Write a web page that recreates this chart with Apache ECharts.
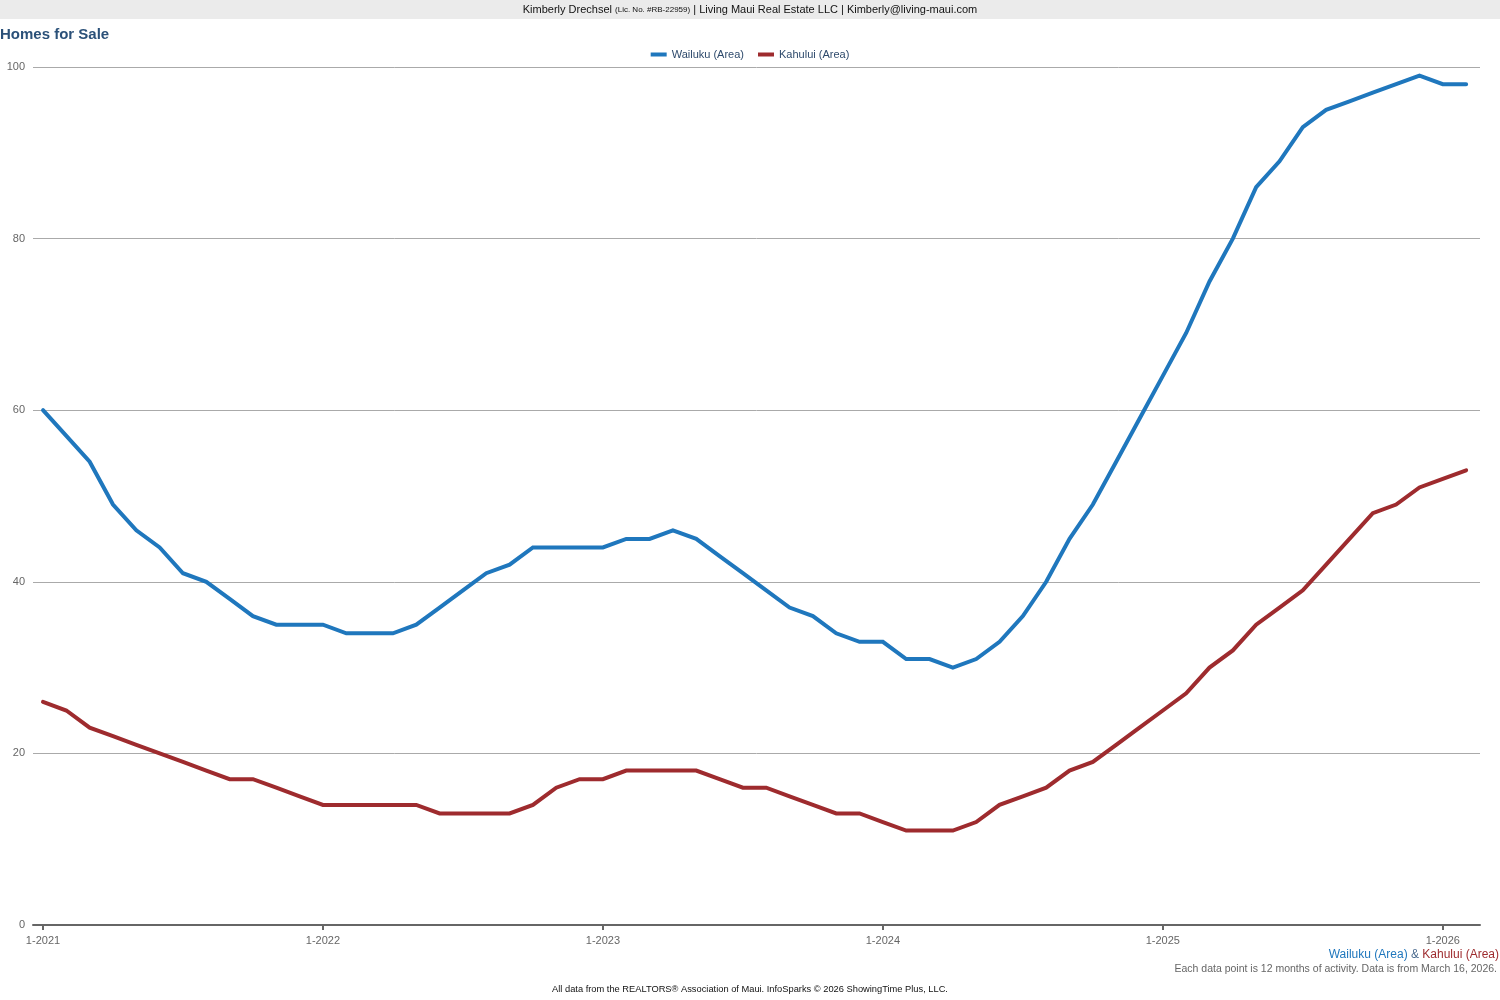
<!DOCTYPE html>
<html>
<head>
<meta charset="utf-8">
<script src="https://cdn.jsdelivr.net/npm/echarts@6/dist/echarts.min.js"></script>
<style>
html,body{margin:0;padding:0;background:#fff;}
#chart{width:1500px;height:1000px;}
</style>
</head>
<body>
<div id="chart"></div>
<script>
// Months Jan 2021 .. Feb 2026
const months = [];
for (let y = 2021; y <= 2026; y++) for (let m = 1; m <= 12; m++) months.push(m + '-' + y);
months.length = 62;

const tickLabels = ['1-2021', '1-2022', '1-2023', '1-2024', '1-2025', '1-2026'];
const tickIndexes = [0, 12, 24, 36, 48, 60];

const wailuku = [60, 57, 54, 49, 46, 44, 41, 40, 38, 36, 35, 35,
  35, 34, 34, 34, 35, 37, 39, 41, 42, 44, 44, 44,
  44, 45, 45, 46, 45, 43, 41, 39, 37, 36, 34, 33,
  33, 31, 31, 30, 31, 33, 36, 40, 45, 49, 54, 59,
  64, 69, 75, 80, 86, 89, 93, 95, 96, 97, 98, 99,
  98, 98];

const kahului = [26, 25, 23, 22, 21, 20, 19, 18, 17, 17, 16, 15,
  14, 14, 14, 14, 14, 13, 13, 13, 13, 14, 16, 17,
  17, 18, 18, 18, 18, 17, 16, 16, 15, 14, 13, 13,
  12, 11, 11, 11, 12, 14, 15, 16, 18, 19, 21, 23,
  25, 27, 30, 32, 35, 37, 39, 42, 45, 48, 49, 51,
  52, 53];

const seriesNames = ['Wailuku (Area)', 'Kahului (Area)'];
const colors = ['#1f77bd', '#9e2b2e'];

const chart = echarts.init(document.getElementById('chart'), null, {renderer: 'canvas'});
const FONT = '"Liberation Sans", Arial, sans-serif';

chart.setOption({
  animation: false,
  textStyle: {fontFamily: FONT},
  graphic: [
    {type: 'rect', shape: {x: 0, y: 0, width: 1500, height: 19}, style: {fill: '#ebebeb'}, z: -1}
  ],
  title: [
    {
      text: '{a|Kimberly Drechsel }{b|(Lic. No. #RB-22959)}{a| | Living Maui Real Estate LLC | Kimberly@living-maui.com}',
      left: 'center', top: 4, padding: 0,
      textStyle: {fontWeight: 'normal', rich: {
        a: {fontSize: 11, color: '#111', fontWeight: 'normal', fontFamily: FONT},
        b: {fontSize: 8, color: '#111', fontWeight: 'normal', fontFamily: FONT}
      }}
    },
    {
      text: 'Homes for Sale', left: 0, top: 27, padding: 0,
      textStyle: {fontSize: 15, fontWeight: 'bold', color: '#2b5179', fontFamily: FONT}
    },
    {
      text: '{w|Wailuku (Area)}{n| & }{k|Kahului (Area)}',
      right: 1, top: 949, padding: 0,
      textStyle: {fontWeight: 'normal', rich: {
        w: {fontSize: 12, color: colors[0], fontWeight: 'normal', fontFamily: FONT},
        n: {fontSize: 12, color: '#4a6a8e', fontWeight: 'normal', fontFamily: FONT},
        k: {fontSize: 12, color: colors[1], fontWeight: 'normal', fontFamily: FONT}
      }}
    },
    {
      text: 'Each data point is 12 months of activity. Data is from March 16, 2026.',
      right: 3, top: 964, padding: 0,
      textStyle: {fontSize: 10.5, fontWeight: 'normal', color: '#666', fontFamily: FONT}
    },
    {
      text: 'All data from the REALTORS® Association of Maui. InfoSparks © 2026 ShowingTime Plus, LLC.',
      left: 'center', top: 985, padding: 0,
      textStyle: {fontSize: 9.3, fontWeight: 'normal', color: '#111', fontFamily: FONT}
    }
  ],
  legend: {
    top: 44, left: 'center',
    icon: 'rect', itemWidth: 16, itemHeight: 4, itemGap: 14,
    textStyle: {fontSize: 11, color: '#2e4a6c', fontFamily: FONT},
    data: seriesNames
  },
  grid: {left: 33, right: 20, top: 67, bottom: 75, containLabel: false},
  xAxis: {
    type: 'value',
    min: -10 / 23.33, max: (1480 - 43) / 23.33,
    splitLine: {show: false},
    axisLine: {show: true, lineStyle: {color: '#666', width: 2}},
    axisTick: {show: true, customValues: tickIndexes, length: 5, lineStyle: {color: '#666', width: 2}},
    axisLabel: {
      customValues: tickIndexes,
      formatter: v => tickLabels[tickIndexes.indexOf(Math.round(v))] || '',
      color: '#666', fontSize: 11, margin: 10, fontFamily: FONT
    }
  },
  yAxis: {
    type: 'value', min: 0, max: 100, interval: 20,
    axisLine: {show: false},
    axisTick: {show: false},
    splitLine: {show: true, lineStyle: {color: '#aaa', width: 1}},
    axisLabel: {color: '#666', fontSize: 11, margin: 8, fontFamily: FONT}
  },
  series: [
    {
      name: seriesNames[0], type: 'line', symbol: 'none',
      data: wailuku.map((v, i) => [i, v]),
      lineStyle: {color: colors[0], width: 4, cap: 'round', join: 'miter'},
      itemStyle: {color: colors[0]}
    },
    {
      name: seriesNames[1], type: 'line', symbol: 'none',
      data: kahului.map((v, i) => [i, v]),
      lineStyle: {color: colors[1], width: 4, cap: 'round', join: 'miter'},
      itemStyle: {color: colors[1]}
    }
  ]
});
</script>
</body>
</html>
